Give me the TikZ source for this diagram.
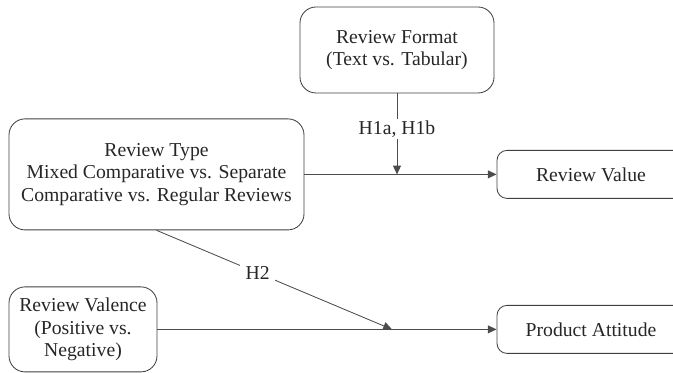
\documentclass[tikz,border=0pt]{standalone}
\usepackage{fontspec}
\setmainfont{Liberation Serif}
\usetikzlibrary{arrows.meta, calc}

\begin{document}
\begin{tikzpicture}[>={Triangle[length=2.2mm, width=2mm]}, line width=0.6pt,
    box/.style={draw=black!75, rounded corners=#1, align=center, inner sep=0pt,
      font=\fontsize{14}{16}\selectfont, text=black!85},
    box/.default=4mm,
    link/.style={draw=black!70, line width=0.6pt},
    hyp/.style={fill=white, inner sep=1.5pt, font=\fontsize{14}{16}\selectfont, text=black!85}]
  \useasboundingbox (0,0) rectangle (16.825,9.325);
  \clip (0,0) rectangle (16.825,9.325);
  % --- nodes ---
  \node[box, minimum width=4.85cm, minimum height=2.15cm] (fmt) at (9.925,8.075)
    {Review Format\\(Text vs. Tabular)};
  \node[box, minimum width=7.375cm, minimum height=2.775cm] (type) at (3.9125,4.965)
    {Review Type\\Mixed Comparative vs. Separate\\Comparative vs. Regular Reviews};
  \node[box=2.5mm, minimum width=4.7cm, minimum height=1.2cm] (value) at (14.775,4.965)
    {Review Value};
  \node[box, minimum width=3.7cm, minimum height=2.125cm] (valence) at (2.075,1.09)
    {Review Valence\\(Positive vs.\\Negative)};
  \node[box=2.5mm, minimum width=4.7cm, minimum height=1.2cm] (attitude) at (14.775,1.09)
    {Product Attitude};
  % --- main effects ---
  \draw[link, ->] (type) -- (value);
  \draw[link, ->] (valence) -- (attitude);
  % --- moderators ---
  \coordinate (m1) at (fmt.south |- type.east);
  \coordinate (m2) at (9.8,1.09);
  \draw[link, ->] (fmt) -- (m1) node[hyp, pos=0.44]{H1a, H1b};
  \draw[link, ->] (type.south) -- (m2) node[hyp, inner sep=4pt, pos=0.43]{H2};
\end{tikzpicture}
\end{document}
